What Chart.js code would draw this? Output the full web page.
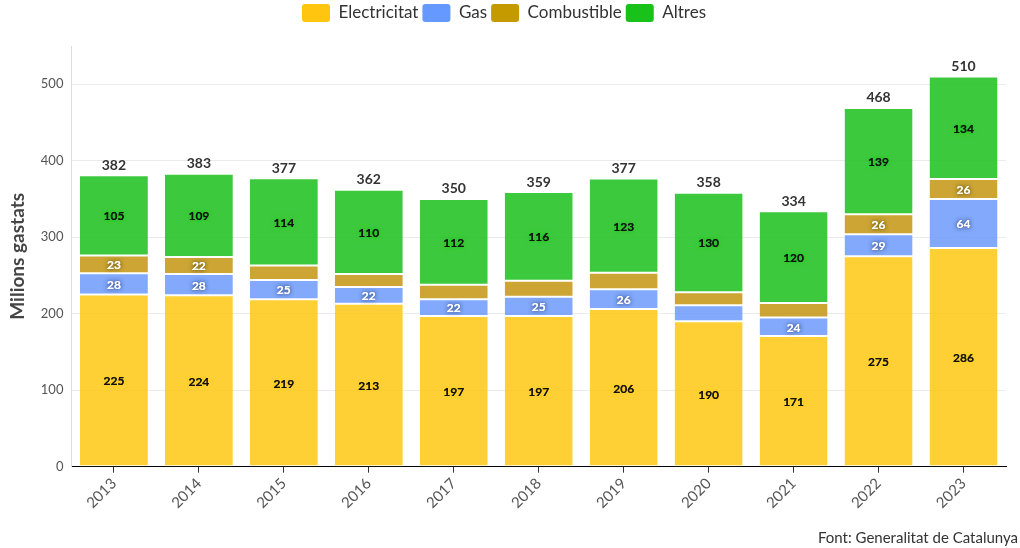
<!DOCTYPE html>
<html>
<head>
<meta charset="utf-8">
<script src="https://cdn.jsdelivr.net/npm/chart.js@4"></script>
<style>
    html, body { margin: 0; padding: 0; background: #fff; }
    #wrap { width: 1020px; height: 548px; position: relative; }
</style>
</head>
<body>
<div id="wrap"><canvas id="energyChart"></canvas></div>
<script>
// ========== DATA ==========
const years = ['2013', '2014', '2015', '2016', '2017', '2018', '2019', '2020', '2021', '2022', '2023'];
const electricitat = [225, 224, 219, 213, 197, 197, 206, 190, 171, 275, 286];
const gas = [28, 28, 25, 22, 22, 25, 26, 21, 24, 29, 64];
const combustible = [23, 22, 19, 17, 19, 21, 21.6, 17, 19, 26, 26];
const altres = [105, 109, 114, 110, 112, 116, 123, 130, 120, 139, 134];
const totals = [382, 383, 377, 362, 350, 359, 377, 358, 334, 468, 510];
const yTicks = [0, 100, 200, 300, 400, 500];
const sourceText = 'Font: Generalitat de Catalunya';

const FONT = "Lato, 'Noto Sans', sans-serif";

// ========== SERIES STYLE ==========
const series = [
    { label: 'Electricitat', data: electricitat, bar: 'rgba(255, 200, 20, 0.86)', legend: '#FFC50F', text: '#111', glow: '#FFCC22' },
    { label: 'Gas', data: gas, bar: 'rgba(110, 155, 250, 0.86)', legend: '#6699FF', text: '#fff', glow: 'rgba(40,60,120,0.7)' },
    { label: 'Combustible', data: combustible, bar: 'rgba(196, 150, 20, 0.86)', legend: '#C49A00', text: '#fff', glow: 'rgba(90,70,0,0.7)' },
    { label: 'Altres', data: altres, bar: 'rgba(40, 195, 40, 0.9)', legend: '#19C219', text: '#111', glow: '#22C422' }
];

// ========== LABEL PLUGIN ==========
const barLabels = {
    id: 'barLabels',
    beforeInit(chart) {
        // extra room under the legend
        const fit = chart.legend.fit;
        chart.legend.fit = function() {
            fit.bind(chart.legend)();
            this.height += 14;
        };
    },
    afterDatasetsDraw(chart) {
        const ctx = chart.ctx;
        ctx.save();
        ctx.textAlign = 'center';
        ctx.textBaseline = 'middle';

        // values inside segments
        chart.data.datasets.forEach((ds, i) => {
            const meta = chart.getDatasetMeta(i);
            const s = series[i];
            meta.data.forEach((bar, j) => {
                const v = ds.data[j];
                if (v < 22) return;
                const y = (bar.y + bar.base) / 2;
                ctx.font = 'bold 12px ' + FONT;
                ctx.shadowColor = s.glow;
                ctx.shadowBlur = 4;
                ctx.fillStyle = s.text;
                ctx.fillText(Math.round(v), bar.x, y + 1);
                ctx.fillText(Math.round(v), bar.x, y + 1);
            });
        });

        // totals on top
        ctx.shadowBlur = 0;
        ctx.shadowColor = 'transparent';
        const topMeta = chart.getDatasetMeta(chart.data.datasets.length - 1);
        topMeta.data.forEach((bar, j) => {
            ctx.font = 'bold 14px ' + FONT;
            ctx.fillStyle = '#333';
            ctx.fillText(totals[j], bar.x, bar.y - 10);
        });

        // source note
        ctx.textAlign = 'right';
        ctx.font = '15px ' + FONT;
        ctx.fillStyle = '#333';
        ctx.fillText(sourceText, chart.width - 2, chart.height - 10);
        ctx.restore();
    }
};

// ========== CHART ==========
const ctx = document.getElementById('energyChart').getContext('2d');
new Chart(ctx, {
    type: 'bar',
    data: {
        labels: years,
        datasets: series.map(s => ({
            label: s.label,
            data: s.data,
            backgroundColor: s.bar,
            borderColor: '#fff',
            borderWidth: { top: 1, bottom: 1, left: 0, right: 0 },
            borderSkipped: false,
            categoryPercentage: 1,
            barPercentage: 0.8
        }))
    },
    options: {
        responsive: true,
        maintainAspectRatio: false,
        animation: false,
        layout: { padding: { left: 2, right: 14, top: 0, bottom: 34 } },
        plugins: {
            legend: {
                position: 'top',
                labels: {
                    font: { family: FONT, size: 17 },
                    color: '#333',
                    boxWidth: 28,
                    boxHeight: 18,
                    padding: 4,
                    useBorderRadius: true,
                    borderRadius: 3,
                    generateLabels(chart) {
                        return series.map((s, i) => ({
                            text: s.label,
                            fillStyle: s.legend,
                            strokeStyle: s.legend,
                            lineWidth: 0,
                            borderRadius: 3,
                            fontColor: '#333',
                            datasetIndex: i
                        }));
                    }
                }
            },
            tooltip: { enabled: false }
        },
        scales: {
            x: {
                stacked: true,
                grid: { display: true, offset: false, drawOnChartArea: false, drawTicks: true, tickLength: 6, color: '#333' },
                border: { color: '#000', width: 1 },
                ticks: {
                    color: '#555',
                    font: { family: FONT, size: 15 },
                    maxRotation: 45,
                    minRotation: 45,
                    padding: 2
                }
            },
            y: {
                stacked: true,
                min: 0,
                max: 550,
                afterBuildTicks(axis) {
                    axis.ticks = yTicks.map(v => ({ value: v }));
                },
                grid: { color: '#ebebeb', drawTicks: false },
                border: { color: '#ddd' },
                ticks: {
                    color: '#555',
                    font: { family: FONT, size: 13 },
                    padding: 8
                },
                title: {
                    display: true,
                    text: 'Milions gastats',
                    color: '#444',
                    font: { family: FONT, size: 19, weight: 'bold' },
                    padding: { bottom: 4 }
                }
            }
        }
    },
    plugins: [barLabels]
});
</script>
</body>
</html>
